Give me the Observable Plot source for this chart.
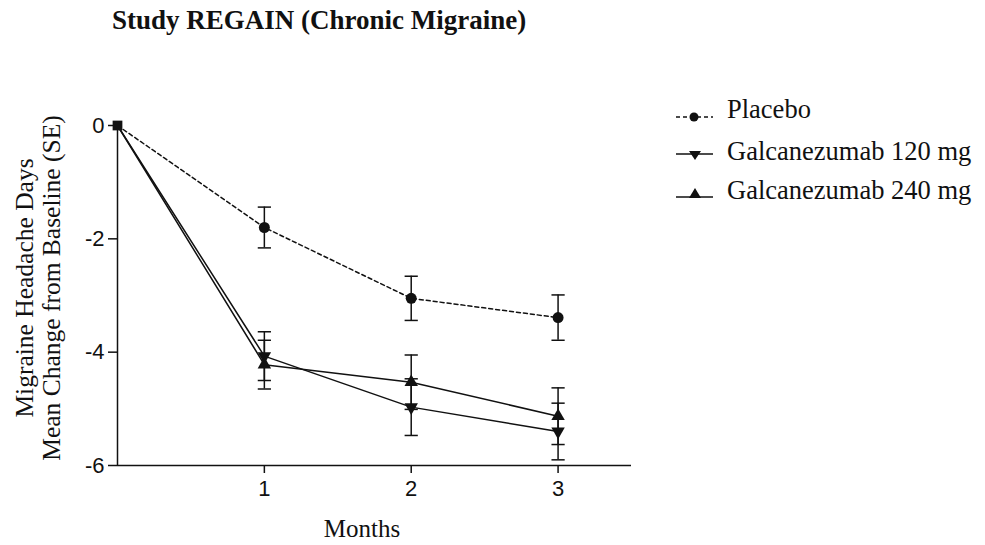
<!DOCTYPE html>
<html>
<head>
<meta charset="utf-8">
<script src="https://cdn.jsdelivr.net/npm/d3@7"></script>
<script src="https://cdn.jsdelivr.net/npm/@observablehq/plot@0.6"></script>
<style>
  html, body { margin: 0; padding: 0; background: #fff; }
  #wrap { position: relative; width: 985px; height: 545px; overflow: hidden; }
  #overlay { position: absolute; left: 0; top: 0; }
  #overlay text { font-family: "Liberation Serif", "Times New Roman", serif; fill: #111; }
</style>
</head>
<body>
<div id="wrap">
  <div id="chart"></div>
  <svg id="overlay" width="985" height="545"></svg>
</div>
<script>
const title = "Study REGAIN (Chronic Migraine)";
const xLabel = "Months";
const yLabelLines = ["Migraine Headache Days", "Mean Change from Baseline (SE)"];
const months = [0, 1, 2, 3];
const xTicks = [1, 2, 3];
const yTicks = [0, -2, -4, -6];
const seriesNames = ["Placebo", "Galcanezumab 120 mg", "Galcanezumab 240 mg"];
const placebo = [0, -1.80, -3.05, -3.39];
const placeboSE = [0, 0.36, 0.39, 0.40];
const g120 = [0, -4.07, -4.97, -5.40];
const g120SE = [0, 0.43, 0.50, 0.50];
const g240 = [0, -4.22, -4.53, -5.13];
const g240SE = [0, 0.43, 0.48, 0.50];

const INK = "#111";
const values = [placebo, g120, g240];
const ses = [placeboSE, g120SE, g240SE];
const symbols = ["circle", "triangle", "triangle"];
const rotates = [0, 180, 0];
const dashes = ["4,3", null, null];

const rows = [];
seriesNames.forEach((s, i) => months.forEach((m, j) => rows.push({
  series: s, idx: i, month: m, value: values[i][j],
  lo: values[i][j] - ses[i][j], hi: values[i][j] + ses[i][j]
})));
const post = rows.filter(d => d.month > 0);
const baseline = rows.filter(d => d.month === 0 && d.idx === 0);

const capW = 0.045;
const marks = [
  Plot.ruleX([0], {y1: -6, y2: 0, stroke: INK, strokeWidth: 1.5}),
  Plot.ruleY([-6], {x1: 0, x2: 3.5, stroke: INK, strokeWidth: 1.5}),
  Plot.axisY({ticks: yTicks, tickSize: 9, tickPadding: 4, fontSize: 22, tickFormat: d => String(d), label: null, stroke: INK, strokeWidth: 1.5}),
  Plot.axisX({ticks: xTicks, tickSize: 8, tickPadding: 7, fontSize: 22, tickFormat: d => String(d), label: null, stroke: INK, strokeWidth: 1.5}),
];
seriesNames.forEach((s, i) => {
  const data = rows.filter(d => d.idx === i);
  const pdata = post.filter(d => d.idx === i);
  marks.push(Plot.line(data, {x: "month", y: "value", stroke: INK, strokeWidth: 1.5, strokeDasharray: dashes[i]}));
  marks.push(Plot.ruleX(pdata, {x: "month", y1: "lo", y2: "hi", stroke: INK, strokeWidth: 1.5}));
  marks.push(Plot.link(pdata, {x1: d => d.month - capW, x2: d => d.month + capW, y1: "hi", y2: "hi", stroke: INK, strokeWidth: 1.5}));
  marks.push(Plot.link(pdata, {x1: d => d.month - capW, x2: d => d.month + capW, y1: "lo", y2: "lo", stroke: INK, strokeWidth: 1.5}));
});
seriesNames.forEach((s, i) => {
  const pdata = post.filter(d => d.idx === i);
  marks.push(Plot.dot(pdata, {x: "month", y: "value", symbol: () => symbols[i], rotate: rotates[i], r: i === 0 ? 5.5 : 5, fill: INK, stroke: "none"}));
});
marks.push(Plot.dot(baseline, {x: "month", y: "value", symbol: "square", r: 5.5, fill: INK}));

const chart = Plot.plot({
  width: 985, height: 545,
  marginLeft: 117, marginRight: 354, marginTop: 125, marginBottom: 80,
  x: {domain: [0, 3.5]},
  y: {domain: [-6, 0]},
  style: {fontFamily: "'Liberation Sans', Arial, sans-serif", fontSize: "22px", color: INK, background: "white"},
  marks
});
document.getElementById("chart").appendChild(chart);

// text overlay: title, axis labels, legend
const ov = d3.select("#overlay");
ov.append("text").attr("x", 112).attr("y", 29).attr("font-size", 27).attr("font-weight", "bold").text(title);
ov.append("text").attr("x", 362).attr("y", 537).attr("text-anchor", "middle").attr("font-size", 25).text(xLabel);
const yl = ov.append("text").attr("transform", "translate(38,288) rotate(-90)").attr("text-anchor", "middle").attr("font-size", 25.5);
yLabelLines.forEach((t, k) => yl.append("tspan").attr("x", 0).attr("y", k === 0 ? -5 : 22).text(t));

const legBase = [118, 160, 199];
const lineY = [117, 154, 197];
seriesNames.forEach((s, i) => {
  const g = ov.append("g");
  g.append("line").attr("x1", 676).attr("x2", 713).attr("y1", lineY[i]).attr("y2", lineY[i])
    .attr("stroke", INK).attr("stroke-width", 1.5).attr("stroke-dasharray", dashes[i]);
  if (i === 0) g.append("circle").attr("cx", 694).attr("cy", lineY[i]).attr("r", 4.5).attr("fill", INK);
  else if (i === 1) g.append("path").attr("d", `M689,${lineY[i] - 3} L701,${lineY[i] - 3} L695,${lineY[i] + 6} Z`).attr("fill", INK);
  else g.append("path").attr("d", `M689,${lineY[i] + 1} L701,${lineY[i] + 1} L695,${lineY[i] - 9} Z`).attr("fill", INK);
  g.append("text").attr("x", 727).attr("y", legBase[i]).attr("font-size", 26.5).text(s);
});
</script>
</body>
</html>
